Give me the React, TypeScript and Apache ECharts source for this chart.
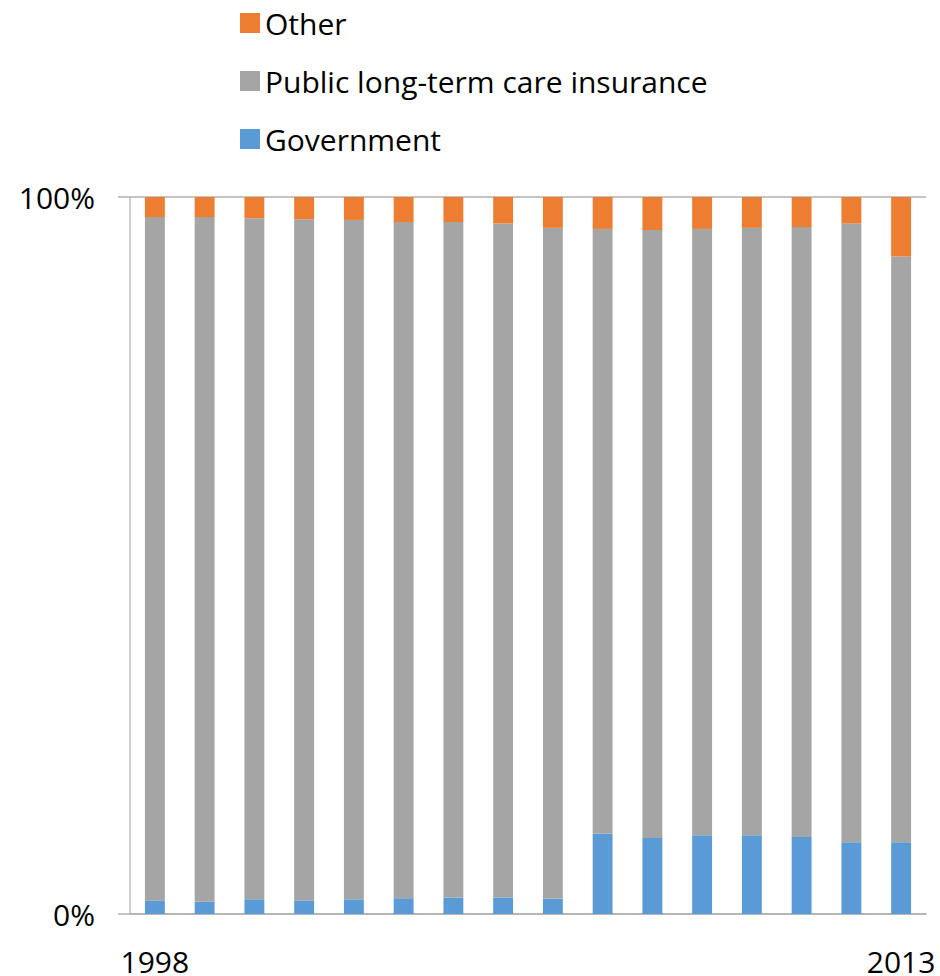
import React, { useEffect, useRef } from "react";
import * as echarts from "echarts";

const years = ["1998","1999","2000","2001","2002","2003","2004","2005","2006","2007","2008","2009","2010","2011","2012","2013"];
const government = [1.9, 1.7, 2.05, 1.9, 2.05, 2.2, 2.3, 2.3, 2.15, 11.2, 10.6, 11.0, 11.0, 10.75, 10.0, 10.0];
const other = [2.8, 2.8, 2.95, 3.1, 3.2, 3.5, 3.5, 3.7, 4.3, 4.45, 4.6, 4.45, 4.3, 4.2, 3.7, 8.3];
const publicLtc = government.map((g, i) => +(100 - g - other[i]).toFixed(2));

const FONT = "Open Sans";

export default function App() {
  const ref = useRef<HTMLDivElement>(null);
  useEffect(() => {
    if (!ref.current) return;
    const chart = echarts.init(ref.current, undefined, { renderer: "svg" });
    const last = years.length - 1;
    chart.setOption({
      animation: false,
      backgroundColor: "#ffffff",
      textStyle: { fontFamily: FONT },
      legend: {
        orient: "vertical",
        left: 235,
        top: 3,
        itemWidth: 20,
        itemHeight: 20,
        itemGap: 28,
        icon: "rect",
        data: ["Other", "Public long-term care insurance", "Government"],
        textStyle: { fontFamily: FONT, fontSize: 30, color: "#000", lineHeight: 30, fontSizeAdjust: undefined },
      },
      grid: { left: 130, right: 14, top: 197, bottom: 62, containLabel: false },
      xAxis: {
        type: "category",
        data: years,
        axisTick: { show: false },
        axisLine: { show: true, lineStyle: { color: "#b0b0b0", width: 1.5 } },
        axisLabel: {
          interval: (i: number) => i === 0 || i === last,
          fontFamily: FONT,
          fontSize: 30,
          lineHeight: 26,
          color: "#000",
          margin: 34,
        },
      },
      yAxis: {
        type: "value",
        min: 0,
        max: 100,
        interval: 100,
        axisLine: { show: true, lineStyle: { color: "#c0c0c0", width: 1.5 } },
        axisTick: { show: true, length: 12, lineStyle: { color: "#b0b0b0", width: 1.5 } },
        splitLine: { show: true, lineStyle: { color: "#b0b0b0", width: 1.5 } },
        axisLabel: {
          formatter: (v: number) => v + "%",
          fontFamily: FONT,
          fontSize: 30,
          color: "#000",
          margin: 35,
        },
      },
      series: [
        { name: "Government", type: "bar", stack: "a", data: government, barWidth: "40%", itemStyle: { color: "#5B9BD5" } },
        { name: "Public long-term care insurance", type: "bar", stack: "a", data: publicLtc, barWidth: "40%", itemStyle: { color: "#A5A5A5" } },
        { name: "Other", type: "bar", stack: "a", data: other, barWidth: "40%", itemStyle: { color: "#ED7D31" } },
      ],
    });
    return () => chart.dispose();
  }, []);
  return <div ref={ref} style={{ position: "fixed", left: 0, top: 0, width: 940, height: 976 }} />;
}
